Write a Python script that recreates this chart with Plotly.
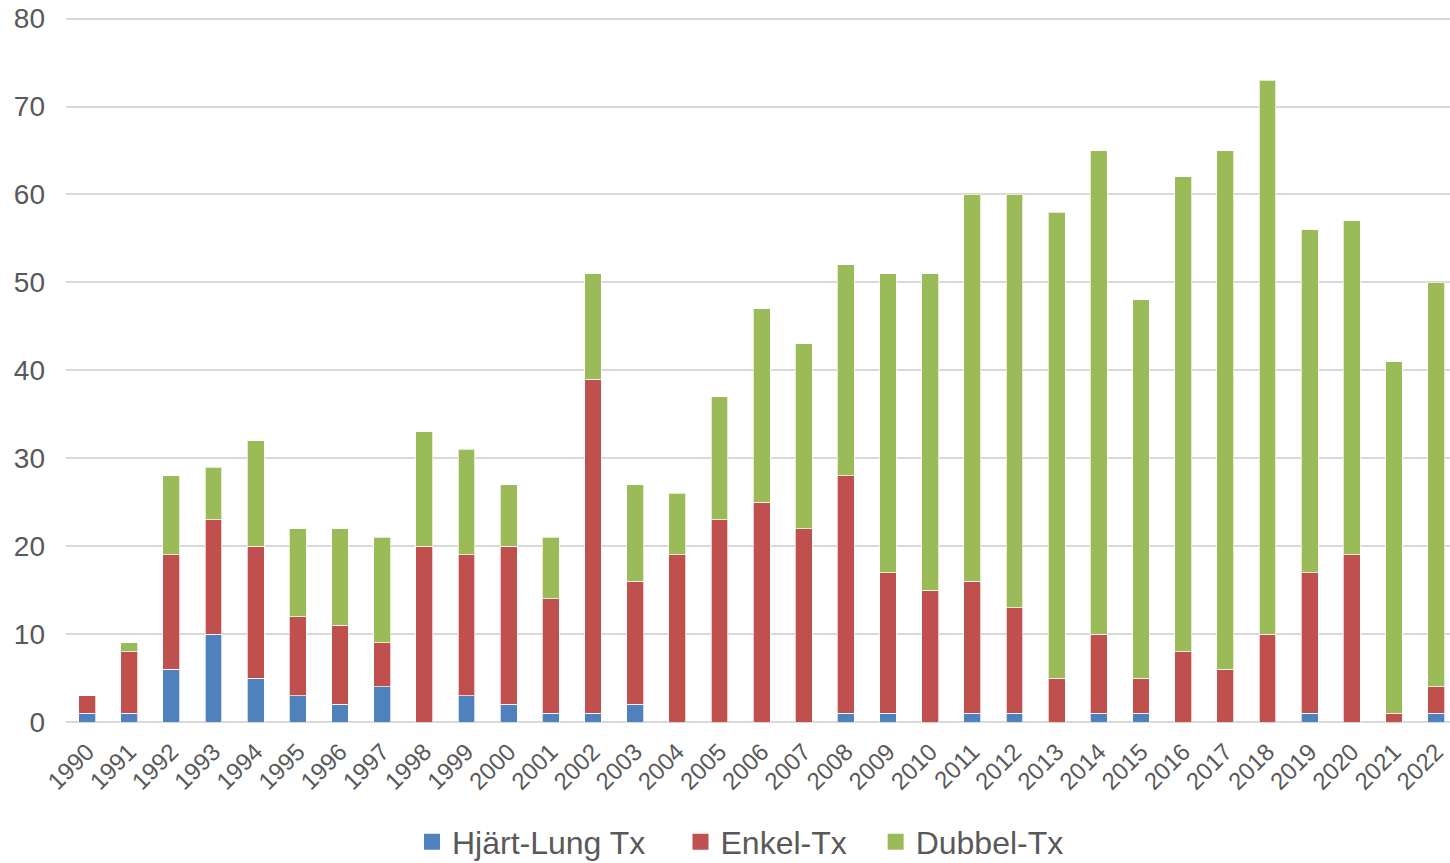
import plotly.graph_objects as go

years = [str(y) for y in range(1990, 2023)]
hjart_lung = [1, 1, 6, 10, 5, 3, 2, 4, 0, 3, 2, 1, 1, 2, 0, 0, 0, 0, 1, 1, 0, 1, 1, 0, 1, 1, 0, 0, 0, 1, 0, 0, 1]
enkel = [2, 7, 13, 13, 15, 9, 9, 5, 20, 16, 18, 13, 38, 14, 19, 23, 25, 22, 27, 16, 15, 15, 12, 5, 9, 4, 8, 6, 10, 16, 19, 1, 3]
dubbel = [0, 1, 9, 6, 12, 10, 11, 12, 13, 12, 7, 7, 12, 11, 7, 14, 22, 21, 24, 34, 36, 44, 47, 53, 55, 43, 54, 59, 63, 39, 38, 40, 46]

series = [
    ("Hjärt-Lung Tx", hjart_lung, "#4F81BD", "legend", 0.2500),
    ("Enkel-Tx", enkel, "#C0504D", "legend2", 0.4440),
    ("Dubbel-Tx", dubbel, "#9BBB59", "legend3", 0.5850),
]

font_family = "Liberation Sans, Arial, sans-serif"
fig = go.Figure()
for name, vals, color, leg, _ in series:
    fig.add_trace(go.Bar(
        x=years, y=vals, name=name, showlegend=False,
        marker=dict(color=color, line=dict(color="rgba(255,255,255,0.7)", width=1)),
    ))
for name, vals, color, leg, _ in series:
    fig.add_trace(go.Scatter(
        x=[None], y=[None], name=name, mode="markers", legend=leg,
        marker=dict(symbol="square", size=16, color=color),
        hoverinfo="skip",
    ))

legends = {}
for name, vals, color, leg, lx in series:
    legends[leg] = dict(
        orientation="h", x=lx, xanchor="left", y=-0.170, yanchor="middle",
        font=dict(size=32, color="#595959", family=font_family),
        itemwidth=30, bgcolor="rgba(0,0,0,0)",
    )

fig.update_layout(
    barmode="stack",
    bargap=0.6,
    width=1450, height=863,
    margin=dict(l=66, r=0, t=16, b=141, autoexpand=False),
    plot_bgcolor="white", paper_bgcolor="white",
    font=dict(family=font_family, color="#595959"),
    xaxis=dict(
        type="category", range=[-0.5, 32.33], automargin=False,
        tickmode="array", tickvals=years, ticktext=years,
        tickangle=-45, tickfont=dict(size=24, color="#595959"),
        showgrid=False, showline=False, ticks="", ticklabelstandoff=10,
    ),
    yaxis=dict(
        range=[0, 80.3], tickmode="array", tickvals=[0, 10, 20, 30, 40, 50, 60, 70, 80],
        tickfont=dict(size=28, color="#595959"), ticklabeloverflow="allow",
        showgrid=True, gridcolor="#d9d9d9", gridwidth=2, automargin=False,
        zeroline=True, zerolinecolor="#d9d9d9", zerolinewidth=2,
        ticks="", ticklabelstandoff=20,
    ),
    **legends,
)

fig.write_html("out.html", config={"displayModeBar": False},
               post_script="document.body.style.margin='0';")
